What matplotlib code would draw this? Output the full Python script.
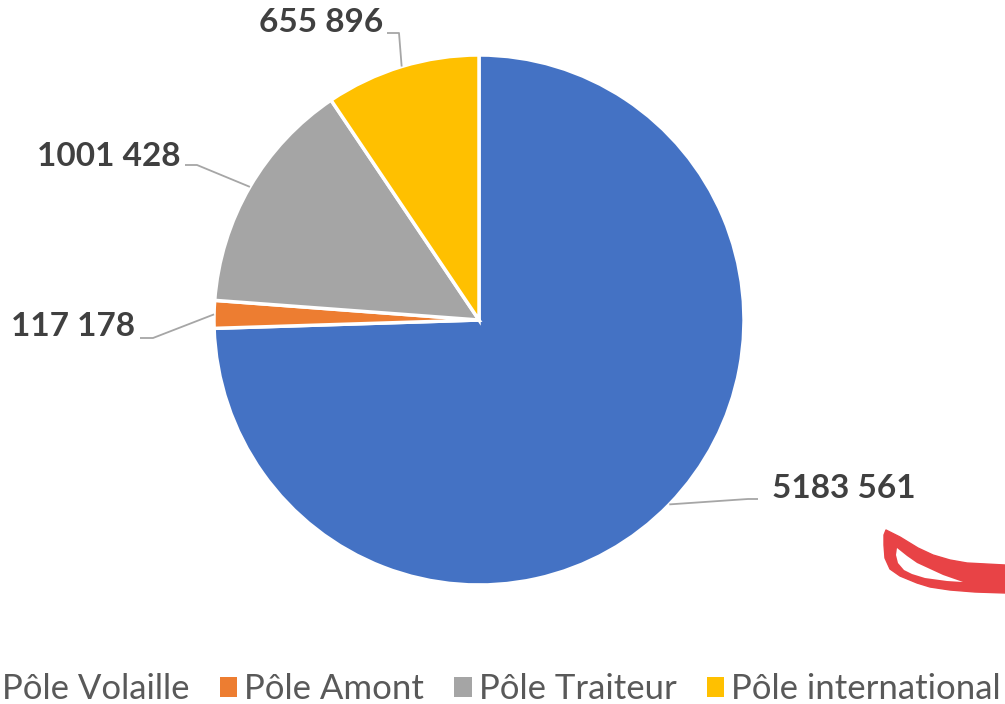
import numpy as np
import matplotlib
matplotlib.use("Agg")
import matplotlib.pyplot as plt
from matplotlib.patches import Rectangle, Polygon

categories = ["Pôle Volaille", "Pôle Amont", "Pôle Traiteur", "Pôle international"]
values = [5183561, 117178, 1001428, 655896]
labels = ["5183 561", "117 178", "1001 428", "655 896"]
colors = ["#4472C4", "#ED7D31", "#A5A5A5", "#FFC000"]

W, H = 1005, 704
fig = plt.figure(figsize=(W / 100, H / 100), dpi=100)
ax = fig.add_axes([0, 0, 1, 1])

def Y(y):
    return H - y

cx, cy, R = 479, Y(320), 265
wedges, _ = ax.pie(values, colors=colors, startangle=90, counterclock=False,
                   center=(cx, cy), radius=R,
                   wedgeprops=dict(edgecolor="white", linewidth=2.5))

# label layout (text anchor, elbow point, alignment)
layout = [
    dict(tx=772, ty=489, ha="left", ex=758, ey=499, ex2=748),
    dict(tx=135, ty=326, ha="right", ex=140, ey=338, ex2=153),
    dict(tx=180, ty=156, ha="right", ex=185, ey=165, ex2=197),
    dict(tx=383, ty=22, ha="right", ex=387, ey=33, ex2=399),
]
for w, lab, L in zip(wedges, labels, layout):
    mid = np.deg2rad((w.theta1 + w.theta2) / 2)
    px, py = cx + R * np.cos(mid), cy + R * np.sin(mid)
    ax.plot([L["ex"], L["ex2"], px], [Y(L["ey"]), Y(L["ey"]), py],
            color="#A6A6A6", lw=1.3, solid_capstyle="butt", zorder=1)
    ax.text(L["tx"], Y(L["ty"]), lab, ha=L["ha"], va="center",
            fontsize=24, fontweight="bold", color="#404040", family="Lato")

# legend
handles = [Rectangle((0, 0), 1, 1, facecolor=c) for c in colors]
leg = fig.legend(handles, categories, loc="center right", ncol=4,
                 bbox_to_anchor=(1001 / W, 1 - 689 / H), frameon=False,
                 prop=dict(family="Lato", size=25),
                 handlelength=0.5, handleheight=0.5, handletextpad=0.2,
                 columnspacing=0.88, borderaxespad=0, borderpad=0)
for t in leg.get_texts():
    t.set_color("#595959")

# red hand-drawn swoosh (decoration)
outer = [(886, 530), (900, 537), (918, 548), (933, 555), (950, 560), (967, 563),
         (1005, 565), (1005, 593), (975, 592), (950, 590), (930, 587), (917, 583),
         (900, 576), (890, 569), (885, 558), (884, 545), (884, 535)]
hole = [(897, 548), (907, 556), (917, 563), (930, 569), (943, 575), (963, 582),
        (947, 581), (925, 578), (912, 574), (904, 570), (898, 563), (896, 555)]
ax.add_patch(Polygon([(x, Y(y)) for x, y in outer], closed=True,
                     facecolor="#E84346", edgecolor="#E84346", lw=1, joinstyle="round"))
ax.add_patch(Polygon([(x, Y(y)) for x, y in hole], closed=True,
                     facecolor="white", edgecolor="none"))

ax.set_xlim(0, W)
ax.set_ylim(0, H)
ax.set_aspect("equal")
ax.axis("off")
fig.savefig("out.png", dpi=100, facecolor="white")
